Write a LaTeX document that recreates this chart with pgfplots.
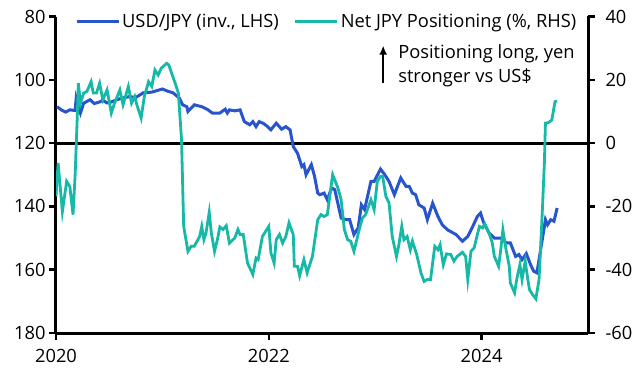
\documentclass[border=0pt]{standalone}
\usepackage{fontspec}
\setmainfont{Open Sans}
\usepackage{pgfplots}
\pgfplotsset{compat=1.18}
\usetikzlibrary{arrows.meta}
\definecolor{ceblue}{RGB}{40,85,205}
\definecolor{ceteal}{RGB}{22,184,166}
\begin{document}
\begin{tikzpicture}[font=\fontsize{18.3bp}{22bp}\selectfont]
\pgfplotsset{
  every axis/.append style={
    scale only axis, width=532bp, height=316.5bp, at={(0,0)}, anchor=south west,
    xmin=2020, xmax=2025,
    axis line style={line width=3bp, -},
    tick style={line width=2.5bp, black},
    major tick length=7bp, tick align=outside,
    /pgf/number format/assume math mode=true,
    clip=true,
  }
}
\begin{axis}[
  y dir=reverse, ymin=80, ymax=180, ytick={80,100,120,140,160,180},
  axis y line*=left, axis x line*=bottom,
  xtick={2020,2022,2024}, xticklabels={2020,2022,2024},
  xticklabel style={yshift=-6bp},
  legend style={draw=none, fill=none, at={(0.03,0.985)}, anchor=west,
    legend columns=2, /tikz/every even column/.append style={column sep=13bp},
    nodes={inner sep=2bp}},
  legend image code/.code={\draw[#1] (0bp,0bp) -- (42bp,0bp);},
]
\addplot[black, line width=3bp, forget plot] coordinates {(2020,120) (2025,120)};
\addplot[ceblue, line width=3bp] coordinates {
(2020.01,108.5)(2020.05,109.5)(2020.09,110.2)(2020.13,109.5)(2020.18,109.7)(2020.19,105.8)(2020.23,110.5)(2020.26,107.4)(2020.32,106.3)(2020.36,107.5)(2020.41,107.0)(2020.44,106.5)(2020.48,107.3)(2020.52,107.0)(2020.57,106.3)(2020.62,105.8)(2020.69,105.3)(2020.75,105.6)(2020.82,104.1)(2020.90,103.9)(2021.00,102.9)(2021.05,103.6)(2021.10,104.1)(2021.16,105.8)(2021.19,107.9)(2021.23,108.5)(2021.24,110.0)(2021.30,107.9)(2021.37,108.5)(2021.42,109.3)(2021.47,110.5)(2021.54,110.5)(2021.59,109.3)(2021.61,110.5)(2021.63,109.5)(2021.68,109.8)(2021.73,109.5)(2021.77,113.2)(2021.82,114.2)(2021.85,113.2)(2021.88,114.8)(2021.91,113.2)(2021.95,113.8)(2021.99,114.8)(2022.02,115.8)(2022.07,113.7)(2022.12,115.6)(2022.16,114.8)(2022.20,115.8)(2022.23,121.1)(2022.27,123.2)(2022.31,127.4)(2022.33,126.8)(2022.35,130.0)(2022.40,126.8)(2022.43,130.5)(2022.46,135.8)(2022.48,136.3)(2022.52,135.8)(2022.55,137.9)(2022.59,134.2)(2022.62,134.7)(2022.68,143.7)(2022.73,144.2)(2022.76,144.2)(2022.80,148.9)(2022.84,146.8)(2022.87,139.5)(2022.90,141.0)(2022.96,132.1)(2022.99,132.1)(2023.05,128.2)(2023.09,130.0)(2023.13,132.1)(2023.18,136.3)(2023.24,131.0)(2023.29,133.7)(2023.32,133.7)(2023.35,135.8)(2023.38,136.3)(2023.41,139.5)(2023.46,140.5)(2023.49,144.2)(2023.54,139.0)(2023.59,143.2)(2023.63,145.8)(2023.68,147.4)(2023.76,148.9)(2023.82,151.0)(2023.87,149.5)(2023.91,146.8)(2023.96,143.2)(2023.99,142.1)(2024.02,145.2)(2024.07,148.4)(2024.12,150.0)(2024.18,150.0)(2024.23,151.5)(2024.27,151.5)(2024.32,155.8)(2024.35,155.2)(2024.38,156.8)(2024.42,154.9)(2024.46,158.4)(2024.49,160.5)(2024.52,161.0)(2024.54,156.8)(2024.57,150.5)(2024.60,144.2)(2024.62,145.8)(2024.65,144.2)(2024.68,144.7)(2024.71,140.5)
};
\addlegendentry{USD/JPY (inv., LHS)}
\addlegendimage{ceteal, line width=3bp}
\addlegendentry{Net JPY Positioning (\%, RHS)}
\end{axis}
\begin{axis}[
  ymin=-60, ymax=40, ytick={-60,-40,-20,0,20,40},
  axis y line*=right, axis x line=none,
  yticklabel style={xshift=7bp},
]
\addplot[ceteal, line width=2.8bp] coordinates {
(2020.00,-16.8)(2020.02,-6.3)(2020.06,-21.6)(2020.10,-12.1)(2020.13,-13.7)(2020.16,-22.6)(2020.18,-10.0)(2020.20,8.4)(2020.21,18.9)(2020.23,12.6)(2020.26,15.8)(2020.29,16.3)(2020.33,19.4)(2020.35,15.8)(2020.38,15.8)(2020.41,18.9)(2020.44,13.7)(2020.48,16.8)(2020.52,9.5)(2020.55,12.6)(2020.60,16.8)(2020.63,12.1)(2020.68,17.9)(2020.71,12.6)(2020.74,14.7)(2020.76,12.1)(2020.80,7.9)(2020.83,14.7)(2020.87,19.4)(2020.90,17.9)(2020.93,23.1)(2020.96,21.5)(2020.99,23.7)(2021.04,25.2)(2021.06,24.7)(2021.12,18.9)(2021.15,15.8)(2021.18,1.0)(2021.20,-26.3)(2021.24,-34.2)(2021.27,-32.6)(2021.30,-32.6)(2021.35,-29.5)(2021.37,-26.3)(2021.39,-30.5)(2021.41,-28.4)(2021.44,-21.9)(2021.46,-28.4)(2021.49,-34.2)(2021.52,-30.0)(2021.54,-26.5)(2021.57,-27.3)(2021.60,-26.1)(2021.63,-31.6)(2021.68,-30.0)(2021.71,-27.3)(2021.73,-28.9)(2021.76,-28.9)(2021.80,-37.9)(2021.85,-41.5)(2021.88,-36.3)(2021.90,-36.8)(2021.94,-29.5)(2022.00,-26.3)(2022.02,-34.7)(2022.05,-37.9)(2022.07,-30.5)(2022.10,-28.9)(2022.13,-31.6)(2022.16,-29.5)(2022.19,-25.2)(2022.23,-28.9)(2022.24,-38.9)(2022.27,-38.9)(2022.29,-41.9)(2022.33,-36.8)(2022.36,-41.0)(2022.41,-35.8)(2022.46,-24.2)(2022.49,-22.6)(2022.52,-23.2)(2022.55,-22.6)(2022.60,-10.0)(2022.65,-14.2)(2022.68,-17.9)(2022.71,-27.3)(2022.74,-30.5)(2022.77,-31.0)(2022.80,-34.2)(2022.82,-31.5)(2022.85,-27.3)(2022.88,-23.7)(2022.91,-22.6)(2022.96,-17.9)(2022.99,-21.0)(2023.02,-12.1)(2023.05,-10.5)(2023.07,-10.5)(2023.10,-16.8)(2023.13,-18.9)(2023.16,-29.5)(2023.20,-35.8)(2023.22,-32.6)(2023.25,-26.3)(2023.27,-30.5)(2023.30,-29.5)(2023.33,-33.7)(2023.35,-31.0)(2023.39,-35.2)(2023.43,-41.0)(2023.46,-43.7)(2023.49,-43.1)(2023.52,-43.1)(2023.56,-32.6)(2023.59,-33.7)(2023.61,-32.1)(2023.64,-38.4)(2023.67,-35.0)(2023.71,-35.2)(2023.74,-37.3)(2023.77,-35.8)(2023.82,-34.5)(2023.85,-35.8)(2023.87,-43.1)(2023.90,-34.2)(2023.93,-33.1)(2023.96,-28.9)(2023.98,-26.3)(2024.01,-26.8)(2024.03,-25.5)(2024.07,-28.4)(2024.10,-31.5)(2024.12,-35.8)(2024.16,-38.9)(2024.18,-33.7)(2024.20,-27.4)(2024.23,-33.7)(2024.26,-38.9)(2024.27,-44.2)(2024.31,-47.3)(2024.33,-43.1)(2024.36,-38.4)(2024.38,-43.1)(2024.41,-37.3)(2024.43,-42.1)(2024.45,-46.3)(2024.48,-47.9)(2024.51,-49.2)(2024.54,-43.1)(2024.57,-22.1)(2024.59,-6.3)(2024.60,6.3)(2024.63,6.5)(2024.66,7.3)(2024.69,13.1)(2024.71,13.3)
};
\draw[-{Latex[length=9bp,width=8bp]}, line width=2bp] (axis description cs:0.615,0.79) -- (axis description cs:0.615,0.908);
\node[anchor=base west, inner sep=0pt] at (axis description cs:0.643,0.8667) {Positioning long, yen};
\node[anchor=base west, inner sep=0pt] at (axis description cs:0.643,0.7899) {stronger vs US\$};
\end{axis}
\pgfresetboundingbox
\useasboundingbox (-56bp,-45bp) rectangle (588bp,333bp);
\end{tikzpicture}
\end{document}
